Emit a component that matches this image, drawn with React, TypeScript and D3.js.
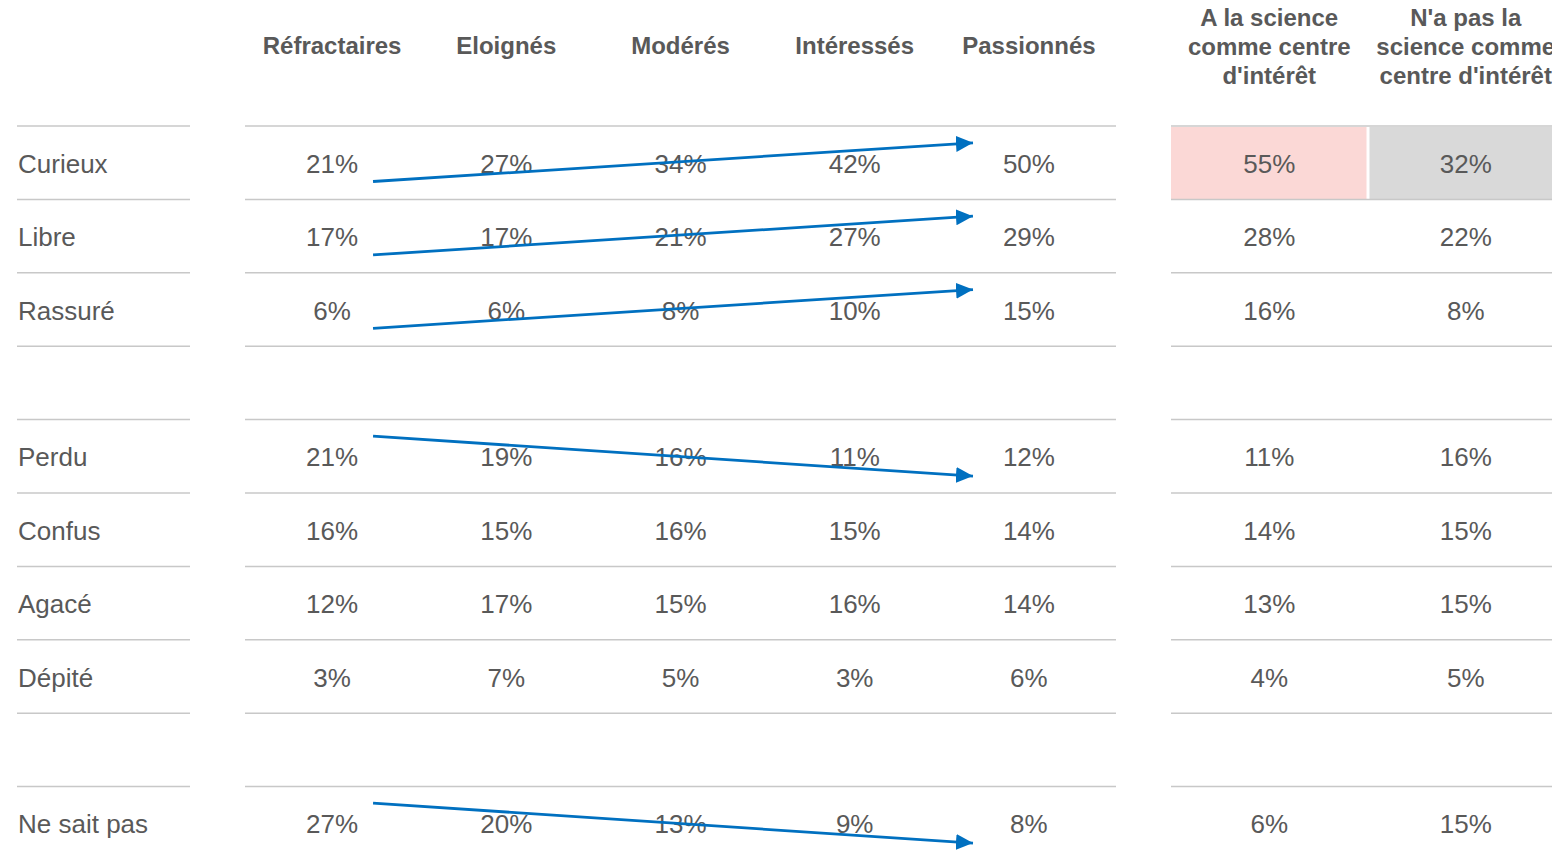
import React, { useEffect, useRef } from 'react';
import * as d3 from 'd3';

// Rows (empty strings are spacer rows)
const rowLabels = ['Curieux', 'Libre', 'Rassuré', '', 'Perdu', 'Confus', 'Agacé', 'Dépité', '', 'Ne sait pas'];

const segmentHeaders = ['Réfractaires', 'Eloignés', 'Modérés', 'Intéressés', 'Passionnés'];
const interestHeaders = [
  ['A la science', 'comme centre', "d'intérêt"],
  ["N'a pas la", 'science comme', "centre d'intérêt"],
];

// values per row, null for spacer rows
const segmentValues: (number[] | null)[] = [
  [21, 27, 34, 42, 50],
  [17, 17, 21, 27, 29],
  [6, 6, 8, 10, 15],
  null,
  [21, 19, 16, 11, 12],
  [16, 15, 16, 15, 14],
  [12, 17, 15, 16, 14],
  [3, 7, 5, 3, 6],
  null,
  [27, 20, 13, 9, 8],
];

const interestValues: (number[] | null)[] = [
  [55, 32],
  [28, 22],
  [16, 8],
  null,
  [11, 16],
  [14, 15],
  [13, 15],
  [4, 5],
  null,
  [6, 15],
];

// highlighted cells in the right table: [row, col, colour]
const highlights: [number, number, string][] = [
  [0, 0, '#fbd8d6'],
  [0, 1, '#d9d9d9'],
];

// trend arrows: row index + direction
const trends: { row: number; dir: 'up' | 'down' }[] = [
  { row: 0, dir: 'up' },
  { row: 1, dir: 'up' },
  { row: 2, dir: 'up' },
  { row: 4, dir: 'down' },
  { row: 9, dir: 'down' },
];

const W = 1552;
const H = 856;
const FONT = '"Liberation Sans", Arial, sans-serif';
const TEXT = '#595959';
const RULE = '#c8c8c8';
const BLUE = '#0070c0';

const App: React.FC = () => {
  const svgRef = useRef<SVGSVGElement>(null);

  useEffect(() => {
    document.body.style.margin = '0';
    if (!svgRef.current) return;

    const svg = d3.select(svgRef.current);
    svg.selectAll('*').remove();

    // row scale: top edge of each row
    const y = d3
      .scaleBand<number>()
      .domain(d3.range(rowLabels.length))
      .range([126, 126 + 73.4 * rowLabels.length]);

    const xSeg = d3
      .scaleBand<number>()
      .domain(d3.range(segmentHeaders.length))
      .range([245, 1116]);

    const xInt = d3
      .scaleBand<number>()
      .domain(d3.range(interestHeaders.length))
      .range([1171, 1564]);

    // arrow x positions on a fractional column index
    const xIdx = d3
      .scaleLinear()
      .domain([0, segmentHeaders.length - 1])
      .range([xSeg(0)! + xSeg.bandwidth() / 2, xSeg(4)! + xSeg.bandwidth() / 2]);

    const g = svg.append('g');

    // highlight cells
    g.selectAll('rect.hl')
      .data(highlights)
      .enter()
      .append('rect')
      .attr('class', 'hl')
      .attr('x', (d) => xInt(d[1])! + (d[1] === 0 ? 0 : 2))
      .attr('y', (d) => y(d[0])! + 1)
      .attr('width', (d) => xInt.bandwidth() - (d[1] === 0 ? 1 : 0))
      .attr('height', y.bandwidth() - 1)
      .attr('fill', (d) => d[2]);

    // horizontal rules
    const ruleYs = d3.range(rowLabels.length + 1).map((i) => y.range()[0] + i * y.step());
    const ruleSpans: [number, number][] = [
      [17, 190],
      [245, 1116],
      [1171, W],
    ];
    ruleSpans.forEach(([x0, x1]) => {
      g.selectAll(null)
        .data(ruleYs)
        .enter()
        .append('line')
        .attr('x1', x0)
        .attr('x2', x1)
        .attr('y1', (d) => d)
        .attr('y2', (d) => d)
        .attr('stroke', RULE)
        .attr('stroke-width', 1.5);
    });

    // headers
    g.selectAll('text.seg-h')
      .data(segmentHeaders)
      .enter()
      .append('text')
      .attr('class', 'seg-h')
      .attr('x', (_, i) => xSeg(i)! + xSeg.bandwidth() / 2)
      .attr('y', 54)
      .attr('text-anchor', 'middle')
      .style('font-family', FONT)
      .style('font-size', '24px')
      .style('font-weight', 'bold')
      .style('fill', TEXT)
      .text((d) => d);

    interestHeaders.forEach((lines, c) => {
      g.selectAll(null)
        .data(lines)
        .enter()
        .append('text')
        .attr('x', xInt(c)! + xInt.bandwidth() / 2)
        .attr('y', (_, i) => 26 + i * 29)
        .attr('text-anchor', 'middle')
        .style('font-family', FONT)
        .style('font-size', '24px')
        .style('font-weight', 'bold')
        .style('fill', TEXT)
        .text((d) => d);
    });

    const baseline = (r: number) => y(r)! + y.bandwidth() / 2 + 10;

    // row labels
    g.selectAll('text.row')
      .data(rowLabels)
      .enter()
      .append('text')
      .attr('class', 'row')
      .attr('x', 18)
      .attr('y', (_, i) => baseline(i))
      .style('font-family', FONT)
      .style('font-size', '26px')
      .style('fill', TEXT)
      .text((d) => d);

    // cell values
    const cell = (vals: (number[] | null)[], xs: d3.ScaleBand<number>) => {
      vals.forEach((row, r) => {
        if (!row) return;
        g.selectAll(null)
          .data(row)
          .enter()
          .append('text')
          .attr('x', (_, c) => xs(c)! + xs.bandwidth() / 2)
          .attr('y', baseline(r))
          .attr('text-anchor', 'middle')
          .style('font-family', FONT)
          .style('font-size', '26px')
          .style('fill', TEXT)
          .text((d) => `${d}%`);
      });
    };
    cell(segmentValues, xSeg);
    cell(interestValues, xInt);

    // arrowhead, tip sits on the line end
    svg
      .append('defs')
      .append('marker')
      .attr('id', 'arrow')
      .attr('viewBox', '0 0 17 16')
      .attr('refX', 17)
      .attr('refY', 8)
      .attr('markerWidth', 17)
      .attr('markerHeight', 16)
      .attr('markerUnits', 'userSpaceOnUse')
      .attr('orient', 'auto')
      .append('path')
      .attr('d', 'M0,0 L17,8 L0,16 Z')
      .attr('fill', BLUE);

    // trend arrows
    g.selectAll('line.trend')
      .data(trends)
      .enter()
      .append('line')
      .attr('class', 'trend')
      .attr('x1', xIdx(0.235))
      .attr('x2', xIdx(3.679))
      .attr('y1', (d) => y(d.row)! + (d.dir === 'up' ? 55.5 : 16.5))
      .attr('y2', (d) => y(d.row)! + (d.dir === 'up' ? 16.8 : 56.5))
      .attr('stroke', BLUE)
      .attr('stroke-width', 2.8)
      .attr('marker-end', 'url(#arrow)');
  }, []);

  return (
    <svg
      ref={svgRef}
      width={W}
      height={H}
      style={{ display: 'block', background: '#fff', overflow: 'hidden' }}
    />
  );
};

export default App;
